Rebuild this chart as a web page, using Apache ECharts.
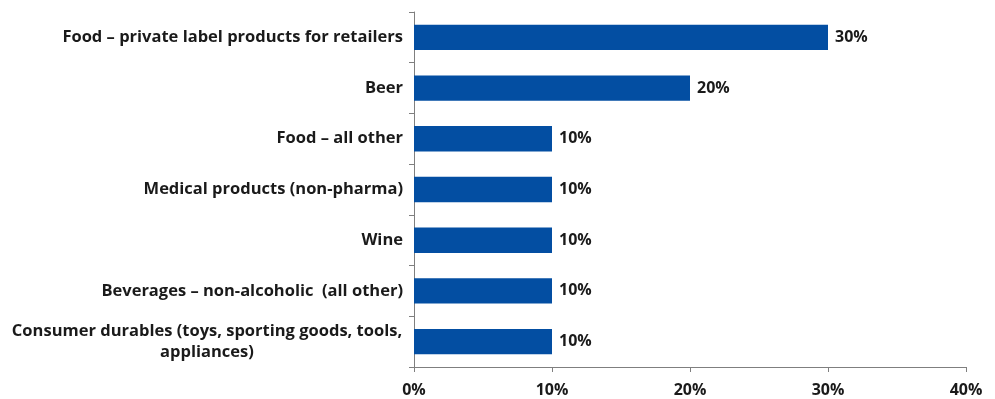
<!DOCTYPE html>
<html>
<head>
<meta charset="utf-8">
<script src="https://cdn.jsdelivr.net/npm/echarts@6/dist/echarts.min.js"></script>
<style>
  html, body { margin: 0; padding: 0; background: #fff; }
  #chart { width: 995px; height: 399px; }
</style>
</head>
<body>
<div id="chart"></div>
<script>
// Product categories, top to bottom
const categories = [
  'Food – private label products for retailers',
  'Beer',
  'Food – all other',
  'Medical products (non-pharma)',
  'Wine',
  'Beverages – non-alcoholic  (all other)',
  'Consumer durables (toys, sporting goods, tools,\nappliances)'
];
// Share of respondents, in percent
const shares = [30, 20, 10, 10, 10, 10, 10];
// Value axis ticks, in percent
const tickValues = [0, 10, 20, 30, 40];

const FONT = '"Open Sans", sans-serif';
const TEXT = '#1a1a1a';
const SIZE = 16.5;

const chart = echarts.init(document.getElementById('chart'), null, { renderer: 'canvas' });
chart.setOption({
  animation: false,
  grid: { left: 414, right: 29, top: 12, bottom: 32, containLabel: false },
  xAxis: {
    type: 'value',
    min: tickValues[0],
    max: tickValues[tickValues.length - 1],
    interval: tickValues[1] - tickValues[0],
    splitLine: { show: false },
    axisLine: { show: true, lineStyle: { color: '#7f7f7f', width: 1 } },
    axisTick: { show: true, length: 5, lineStyle: { color: '#7f7f7f' } },
    axisLabel: {
      formatter: v => v + '%',
      color: TEXT, fontFamily: FONT, fontWeight: 'bold', fontSize: 16, margin: 15
    }
  },
  yAxis: {
    type: 'category',
    inverse: true,
    data: categories,
    axisLine: { show: true, lineStyle: { color: '#7f7f7f', width: 1 } },
    axisTick: { show: true, length: 5, lineStyle: { color: '#7f7f7f' } },
    axisLabel: {
      color: TEXT, fontFamily: FONT, fontWeight: 'bold', fontSize: SIZE, margin: 11,
      formatter: v => v.indexOf('\n') >= 0 ? '{c|' + v + '}' : v,
      rich: {
        c: { align: 'center', width: 392, color: TEXT, fontFamily: FONT, fontWeight: 'bold', fontSize: SIZE, lineHeight: 21 }
      }
    }
  },
  series: [{
    type: 'bar',
    data: shares,
    barWidth: '50%',
    itemStyle: { color: '#034ea2' },
    label: {
      show: true, position: 'right', distance: 7,
      formatter: p => p.value + '%',
      color: TEXT, fontFamily: FONT, fontWeight: 'bold', fontSize: 16
    }
  }]
});
</script>
</body>
</html>
